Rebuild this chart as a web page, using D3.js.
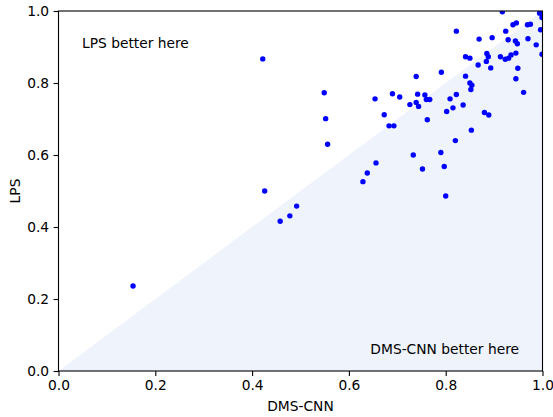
<!DOCTYPE html>
<html>
<head>
<meta charset="utf-8">
<script src="https://cdn.jsdelivr.net/npm/d3@7"></script>
<style>
  html, body { margin: 0; padding: 0; background: #fff; }
  svg { display: block; }
  text { font-family: "DejaVu Sans", sans-serif; fill: #000; }
</style>
</head>
<body>
<svg id="chart" width="553" height="417"></svg>
<script>
// Per-image scores: DMS-CNN (x) against LPS (y)
const dmsCnn = [
  0.154, 0.422, 0.426, 0.458, 0.478, 0.492, 0.549, 0.552, 0.556, 0.629,
  0.638, 0.656, 0.654, 0.690, 0.705, 0.673, 0.683, 0.693, 0.726, 0.733,
  0.739, 0.742, 0.739, 0.744, 0.752, 0.757, 0.760, 0.767, 0.762, 0.790,
  0.791, 0.797, 0.800, 0.802, 0.809, 0.815, 0.820, 0.822, 0.822, 0.836,
  0.841, 0.841, 0.850, 0.850, 0.854, 0.852, 0.853, 0.867, 0.869, 0.880,
  0.889, 0.884, 0.885, 0.888, 0.893, 0.896, 0.913, 0.917, 0.923, 0.924,
  0.929, 0.930, 0.935, 0.939, 0.944, 0.945, 0.945, 0.946, 0.948, 0.949,
  0.961, 0.969, 0.970, 0.975, 0.987, 0.994, 0.996, 0.999, 0.999
];
const lps = [
  0.236, 0.867, 0.500, 0.416, 0.431, 0.458, 0.773, 0.701, 0.630, 0.526,
  0.550, 0.578, 0.756, 0.770, 0.761, 0.712, 0.681, 0.681, 0.740, 0.600,
  0.818, 0.769, 0.746, 0.735, 0.561, 0.767, 0.754, 0.754, 0.698, 0.607,
  0.830, 0.568, 0.486, 0.721, 0.756, 0.731, 0.640, 0.768, 0.944, 0.739,
  0.873, 0.819, 0.869, 0.800, 0.794, 0.782, 0.669, 0.850, 0.922, 0.718,
  0.711, 0.860, 0.882, 0.873, 0.842, 0.926, 0.873, 0.998, 0.866, 0.944,
  0.920, 0.869, 0.878, 0.962, 0.917, 0.883, 0.812, 0.967, 0.909, 0.841,
  0.774, 0.962, 0.923, 0.963, 0.906, 0.994, 0.948, 0.982, 0.880
];
const xTicks = [0, 0.2, 0.4, 0.6, 0.8, 1.0];
const yTicks = [0, 0.2, 0.4, 0.6, 0.8, 1.0];

const svg = d3.select("#chart");
const m = { left: 58.5, right: 542.5, top: 11, bottom: 371 };
const fontSize = 13.8;

const x = d3.scaleLinear().domain([0, 1]).range([m.left, m.right]);
const y = d3.scaleLinear().domain([0, 1]).range([m.bottom, m.top]);

svg.append("defs").append("clipPath").attr("id", "plotClip")
  .append("rect")
  .attr("x", m.left).attr("y", m.top)
  .attr("width", m.right - m.left).attr("height", m.bottom - m.top);

// Region where DMS-CNN scores higher (below the y = x diagonal)
svg.append("path")
  .attr("d", d3.line()([[x(0), y(0)], [x(1), y(1)], [x(1), y(0)]]) + "Z")
  .attr("fill", "#eef3fc");

// Scatter points
svg.append("g").attr("clip-path", "url(#plotClip)")
  .selectAll("circle")
  .data(dmsCnn.map((d, i) => [d, lps[i]]))
  .join("circle")
  .attr("cx", d => x(d[0]))
  .attr("cy", d => y(d[1]))
  .attr("r", 2.7)
  .attr("fill", "#0000ff");

// Region annotations
svg.append("text").attr("x", 82).attr("y", 48)
  .attr("font-size", fontSize).text("LPS better here");
svg.append("text").attr("x", 519).attr("y", 354)
  .attr("font-size", fontSize).attr("text-anchor", "end").text("DMS-CNN better here");

// Axes
const fmt = d3.format(".1f");
const xAxis = svg.append("g").attr("transform", `translate(0,${m.bottom})`)
  .call(d3.axisBottom(x).tickValues(xTicks).tickFormat(fmt).tickSize(4.9).tickPadding(4.5));
const yAxis = svg.append("g").attr("transform", `translate(${m.left},0)`)
  .call(d3.axisLeft(y).tickValues(yTicks).tickFormat(fmt).tickSize(4.9).tickPadding(4.5));
[xAxis, yAxis].forEach(g => {
  g.select(".domain").remove();
  g.selectAll("line").attr("stroke", "#000").attr("stroke-width", 1.1);
  g.selectAll("text").attr("font-size", fontSize).attr("font-family", "DejaVu Sans, sans-serif");
});

// Frame
svg.append("rect")
  .attr("x", m.left).attr("y", m.top)
  .attr("width", m.right - m.left).attr("height", m.bottom - m.top)
  .attr("fill", "none").attr("stroke", "#000").attr("stroke-width", 1.1);

// Axis titles
svg.append("text").attr("x", (m.left + m.right) / 2).attr("y", 411)
  .attr("text-anchor", "middle").attr("font-size", fontSize).text("DMS-CNN");
svg.append("text")
  .attr("transform", `translate(20,${(m.top + m.bottom) / 2}) rotate(-90)`)
  .attr("text-anchor", "middle").attr("font-size", fontSize).text("LPS");
</script>
</body>
</html>
